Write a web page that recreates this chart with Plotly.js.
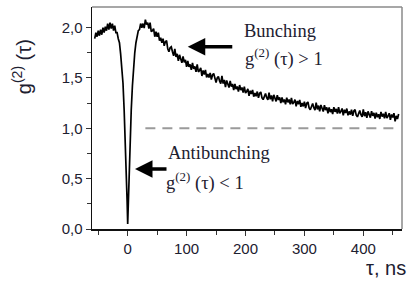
<!DOCTYPE html>
<html>
<head>
<meta charset="utf-8">
<script src="https://cdn.plot.ly/plotly-3.0.1.min.js"></script>
<style>
  html, body { margin: 0; padding: 0; background: #fff; }
  #chart { width: 415px; height: 283px; }
</style>
</head>
<body>
<div id="chart"></div>
<script>
const tauNs = [
  -56, -54, -52, -50, -48, -46, -44, -42, -40, -38,
  -36, -34, -32, -30, -28, -26, -24, -22, -20, -18,
  -16, -14, -12, -10, -8, -6, -4, -3, -2, -1,
  0, 1, 2, 3, 4, 6, 8, 10, 12, 14, 16, 18, 20,
  22, 24, 26, 28, 30, 32, 34, 36, 38, 40,
  42, 44, 46, 48, 50, 52, 54, 56, 58, 60,
  62, 64, 66, 68, 70, 72, 74, 76, 78, 80,
  82, 84, 86, 88, 90, 92, 94, 96, 98, 100,
  102, 104, 106, 108, 110, 112, 114, 116, 118, 120,
  122, 124, 126, 128, 130, 132, 134, 136, 138, 140,
  142, 144, 146, 148, 150, 152, 154, 156, 158, 160,
  162, 164, 166, 168, 170, 172, 174, 176, 178, 180,
  182, 184, 186, 188, 190, 192, 194, 196, 198, 200,
  202, 204, 206, 208, 210, 212, 214, 216, 218, 220,
  222, 224, 226, 228, 230, 232, 234, 236, 238, 240,
  242, 244, 246, 248, 250, 252, 254, 256, 258, 260,
  262, 264, 266, 268, 270, 272, 274, 276, 278, 280,
  282, 284, 286, 288, 290, 292, 294, 296, 298, 300,
  302, 304, 306, 308, 310, 312, 314, 316, 318, 320,
  322, 324, 326, 328, 330, 332, 334, 336, 338, 340,
  342, 344, 346, 348, 350, 352, 354, 356, 358, 360,
  362, 364, 366, 368, 370, 372, 374, 376, 378, 380,
  382, 384, 386, 388, 390, 392, 394, 396, 398, 400,
  402, 404, 406, 408, 410, 412, 414, 416, 418, 420,
  422, 424, 426, 428, 430, 432, 434, 436, 438, 440,
  442, 444, 446, 448, 450, 452, 454, 456, 458, 460
];
const g2 = [
  1.89, 1.95, 1.91, 1.97, 1.92, 1.98, 1.93, 2.00, 1.95, 2.01,
  1.97, 2.04, 1.98, 2.05, 1.99, 2.04, 1.97, 2.02, 1.95, 1.95,
  1.89, 1.85, 1.74, 1.63, 1.45, 1.18, 0.88, 0.70, 0.50, 0.28,
  0.05, 0.28, 0.50, 0.70, 0.88, 1.18, 1.42, 1.62, 1.75, 1.85, 1.91, 1.97, 1.98,
  2.04, 2.00, 2.04, 1.995, 2.08, 2.03, 2.05, 1.99, 2.05, 1.96,
  1.97, 1.99, 1.91, 1.96, 1.91, 1.95, 1.87, 1.90, 1.85, 1.89,
  1.82, 1.86, 1.87, 1.79, 1.76, 1.80, 1.81, 1.76, 1.72, 1.79,
  1.71, 1.74, 1.67, 1.73, 1.69, 1.65, 1.715, 1.655, 1.68, 1.61,
  1.67, 1.61, 1.635, 1.58, 1.65, 1.59, 1.615, 1.56, 1.635, 1.56,
  1.575, 1.60, 1.52, 1.575, 1.535, 1.58, 1.505, 1.54, 1.505, 1.55,
  1.485, 1.53, 1.545, 1.48, 1.455, 1.50, 1.515, 1.47, 1.445, 1.52,
  1.445, 1.48, 1.41, 1.475, 1.44, 1.405, 1.47, 1.415, 1.44, 1.38,
  1.44, 1.39, 1.415, 1.365, 1.43, 1.38, 1.405, 1.355, 1.415, 1.35,
  1.366, 1.392, 1.323, 1.374, 1.34, 1.382, 1.314, 1.351, 1.318, 1.365,
  1.302, 1.349, 1.361, 1.303, 1.285, 1.328, 1.346, 1.304, 1.282, 1.355,
  1.288, 1.326, 1.269, 1.332, 1.30, 1.267, 1.329, 1.281, 1.308, 1.25,
  1.307, 1.259, 1.286, 1.238, 1.305, 1.258, 1.286, 1.239, 1.302, 1.24,
  1.258, 1.286, 1.219, 1.272, 1.24, 1.282, 1.214, 1.251, 1.218, 1.265,
  1.202, 1.249, 1.261, 1.203, 1.185, 1.228, 1.246, 1.204, 1.182, 1.255,
  1.188, 1.226, 1.169, 1.232, 1.20, 1.167, 1.229, 1.181, 1.208, 1.15,
  1.208, 1.161, 1.189, 1.142, 1.21, 1.164, 1.193, 1.147, 1.211, 1.15,
  1.168, 1.197, 1.13, 1.184, 1.152, 1.196, 1.129, 1.168, 1.136, 1.185,
  1.124, 1.172, 1.186, 1.13, 1.114, 1.158, 1.176, 1.135, 1.114, 1.187,
  1.121, 1.16, 1.104, 1.168, 1.137, 1.106, 1.17, 1.124, 1.153, 1.097,
  1.156, 1.11, 1.139, 1.093, 1.162, 1.116, 1.145, 1.099, 1.163, 1.102,
  1.121, 1.15, 1.084, 1.138, 1.107, 1.151, 1.07, 1.124, 1.093, 1.142
];
// Reference level g2 = 1
const refTau = [30, 462];
const refLevel = [1, 1];
// Tick labels
const xTickVals = [0, 100, 200, 300, 400];
const yTickVals = [0, 0.5, 1.0, 1.5, 2.0];

const textColor = '#1d2030';
const sans = 'Liberation Sans, Arial, sans-serif';
const serif = 'Liberation Serif, Times New Roman, serif';

const traces = [
  {
    x: refTau, y: refLevel, type: 'scatter', mode: 'lines',
    line: { color: '#9a9a9a', width: 2, dash: '10px,7px' },
    hoverinfo: 'skip'
  },
  {
    x: tauNs, y: g2, type: 'scatter', mode: 'lines',
    line: { color: '#000', width: 1.7 },
    hoverinfo: 'skip'
  }
];

const layout = {
  width: 415, height: 283,
  margin: { l: 92, r: 13, t: 7, b: 54 },
  paper_bgcolor: '#fff', plot_bgcolor: '#fff',
  showlegend: false,
  separators: ',.',
  xaxis: {
    range: [-60.6, 465.7],
    tickvals: xTickVals,
    ticks: 'outside', ticklen: 5, tickwidth: 1, tickcolor: '#333',
    minor: { tickvals: [-50, 50, 150, 250, 350, 450], ticks: 'outside', ticklen: 4, tickwidth: 1, tickcolor: '#333' },
    showgrid: false, zeroline: false,
    showline: true, linecolor: '#111', linewidth: 1.5,
    tickfont: { family: sans, size: 15, color: textColor },
    fixedrange: true
  },
  yaxis: {
    range: [0, 2.205],
    tickvals: yTickVals, tickformat: '.1f',
    ticks: 'outside', ticklen: 5, tickwidth: 1, tickcolor: '#333',
    minor: { tickvals: [0.25, 0.75, 1.25, 1.75], ticks: 'outside', ticklen: 4, tickwidth: 1, tickcolor: '#333' },
    showgrid: false, zeroline: false,
    showline: true, linecolor: '#111', linewidth: 1.5,
    tickfont: { family: sans, size: 15, color: textColor },
    fixedrange: true
  },
  shapes: [
    { type: 'line', xref: 'paper', yref: 'paper', x0: 0, x1: 1, y0: 1, y1: 1, line: { color: '#8a8a8a', width: 1.5 } },
    { type: 'line', xref: 'paper', yref: 'paper', x0: 1, x1: 1, y0: 0, y1: 1, line: { color: '#8a8a8a', width: 1.5 } }
  ],
  annotations: [
    { xref: 'paper', yref: 'paper', x: -0.225, y: 0.73, text: 'g<sup>(2)</sup> (τ)', textangle: -90,
      showarrow: false, xanchor: 'center', yanchor: 'middle', font: { family: sans, size: 20, color: textColor } },
    { xref: 'paper', yref: 'paper', x: 1.02, y: -0.175, text: 'τ, ns',
      showarrow: false, xanchor: 'right', yanchor: 'middle', font: { family: sans, size: 20, color: textColor } },
    { x: 194, y: 1.965, text: 'Bunching', showarrow: false, xanchor: 'left', yanchor: 'middle',
      font: { family: serif, size: 18.5, color: textColor } },
    { x: 196, y: 1.70, text: 'g<sup>(2)</sup> (τ) > 1', showarrow: false, xanchor: 'left', yanchor: 'middle',
      font: { family: serif, size: 18.5, color: textColor } },
    { x: 65, y: 0.755, text: 'Antibunching', showarrow: false, xanchor: 'left', yanchor: 'middle',
      font: { family: serif, size: 18.5, color: textColor } },
    { x: 61.5, y: 0.47, text: 'g<sup>(2)</sup> (τ) < 1', showarrow: false, xanchor: 'left', yanchor: 'middle',
      font: { family: serif, size: 18.5, color: textColor } },
    { x: 102, y: 1.81, text: '', showarrow: true, ax: 46, ay: 0, arrowhead: 2, arrowsize: 1, arrowwidth: 3.5, arrowcolor: '#000' },
    { x: 12.4, y: 0.596, text: '', showarrow: true, ax: 33, ay: 0, arrowhead: 2, arrowsize: 1, arrowwidth: 3.5, arrowcolor: '#000' }
  ]
};

Plotly.newPlot('chart', traces, layout, { displayModeBar: false, staticPlot: true });
</script>
</body>
</html>
